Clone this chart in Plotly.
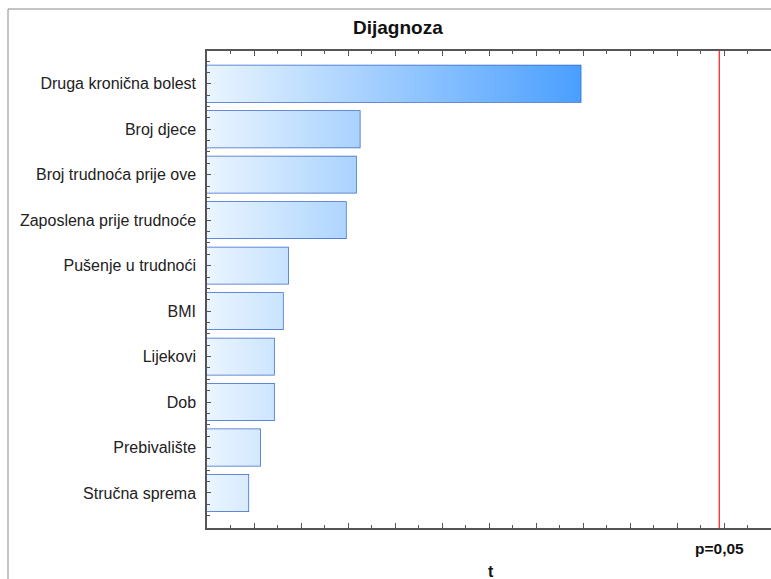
import plotly.graph_objects as go

categories = ["Druga kronična bolest", "Broj djece", "Broj trudnoća prije ove",
              "Zaposlena prije trudnoće", "Pušenje u trudnoći", "BMI", "Lijekovi",
              "Dob", "Prebivalište", "Stručna sprema"]
t_values = [1.59, 0.65, 0.634, 0.591, 0.345, 0.323, 0.285, 0.285, 0.226, 0.176]
t_critical = 2.18
title_text = "Dijagnoza"
crit_label = "p=0,05"
x_title = "t"

W, H = 771, 579
L, R, T, B = 207, 0, 51, 51
pw, ph = W - L - R, H - T - B

positions = list(range(len(categories)))
bar_w = 0.8

# gradient fill polygons built from the values
xs, ys = [], []
for p, v in zip(positions, t_values):
    xs += [0, v, v, 0, 0, None]
    ys += [p - bar_w / 2, p - bar_w / 2, p + bar_w / 2, p + bar_w / 2, p - bar_w / 2, None]

fig = go.Figure()
fig.add_trace(go.Scatter(
    x=xs, y=ys, mode="none", fill="toself",
    fillgradient=dict(type="horizontal",
                      colorscale=[[0, "#eaf5ff"], [1, "#4a9fff"]],
                      start=0, stop=max(t_values)),
    hoverinfo="skip", showlegend=False))
fig.add_trace(go.Bar(
    x=t_values, y=positions, orientation="h", width=bar_w,
    marker=dict(color="rgba(0,0,0,0)", line=dict(color="#3464cc", width=1.5)),
    showlegend=False))

fig.add_shape(type="line", xref="x", yref="paper", x0=t_critical, x1=t_critical,
              y0=0, y1=1, line=dict(color="#ff2d2d", width=1.3))

# outer frame (clipped at right/bottom like the reference)
fig.add_shape(type="rect", xref="paper", yref="paper",
              x0=(8 - L) / pw, x1=1.2, y0=-0.3, y1=1 + (T - 9) / ph,
              line=dict(color="#8a8a8a", width=1))

fig.add_annotation(text="<b>" + title_text + "</b>", xref="paper", yref="paper",
                   x=(398 - L) / pw, y=1 + (T - 28) / ph, showarrow=False,
                   font=dict(size=19, color="#111", family="Liberation Sans, Arial"),
                   xanchor="center", yanchor="middle")
fig.add_annotation(text="<b>" + crit_label + "</b>", xref="x", yref="paper",
                   x=t_critical, y=-(548 - (T + ph)) / ph, showarrow=False,
                   font=dict(size=15.5, color="#111", family="Liberation Sans, Arial"),
                   xanchor="center", yanchor="middle")
fig.add_annotation(text="<b>" + x_title + "</b>", xref="paper", yref="paper",
                   x=(491 - L) / pw, y=-(571 - (T + ph)) / ph, showarrow=False,
                   font=dict(size=16, color="#111", family="Liberation Sans, Arial"),
                   xanchor="center", yanchor="middle")

fig.update_layout(
    width=W, height=H,
    margin=dict(l=L, r=R, t=T, b=B, pad=0),
    paper_bgcolor="white", plot_bgcolor="white",
    font=dict(family="Liberation Sans, Arial", color="#222"),
    bargap=0.2,
    xaxis=dict(range=[0, (W - L) / 235.0], showgrid=False, zeroline=False,
               showline=True, linecolor="#555", linewidth=1.5, mirror="ticks",
               ticks="inside", ticklen=5, tickcolor="#555", dtick=0.2, tick0=0,
               showticklabels=False,
               minor=dict(ticks="inside", ticklen=3, dtick=0.1, tickcolor="#555")),
    yaxis=dict(range=[len(categories) - 1 + 0.77, -0.72], showgrid=False, zeroline=False,
               showline=True, linecolor="#555", linewidth=1.5,
               tickvals=positions, ticktext=categories,
               ticks="inside", ticklen=4, tickcolor="#555",
               ticklabelstandoff=6,
               tickfont=dict(size=16, color="#222"),
               minor=dict(ticks="inside", ticklen=3, dtick=0.25, tick0=0, tickcolor="#555")),
)

fig.write_html("out.html", config={"displayModeBar": False},
               post_script="document.body.style.margin='0';document.body.style.overflow='hidden';")
